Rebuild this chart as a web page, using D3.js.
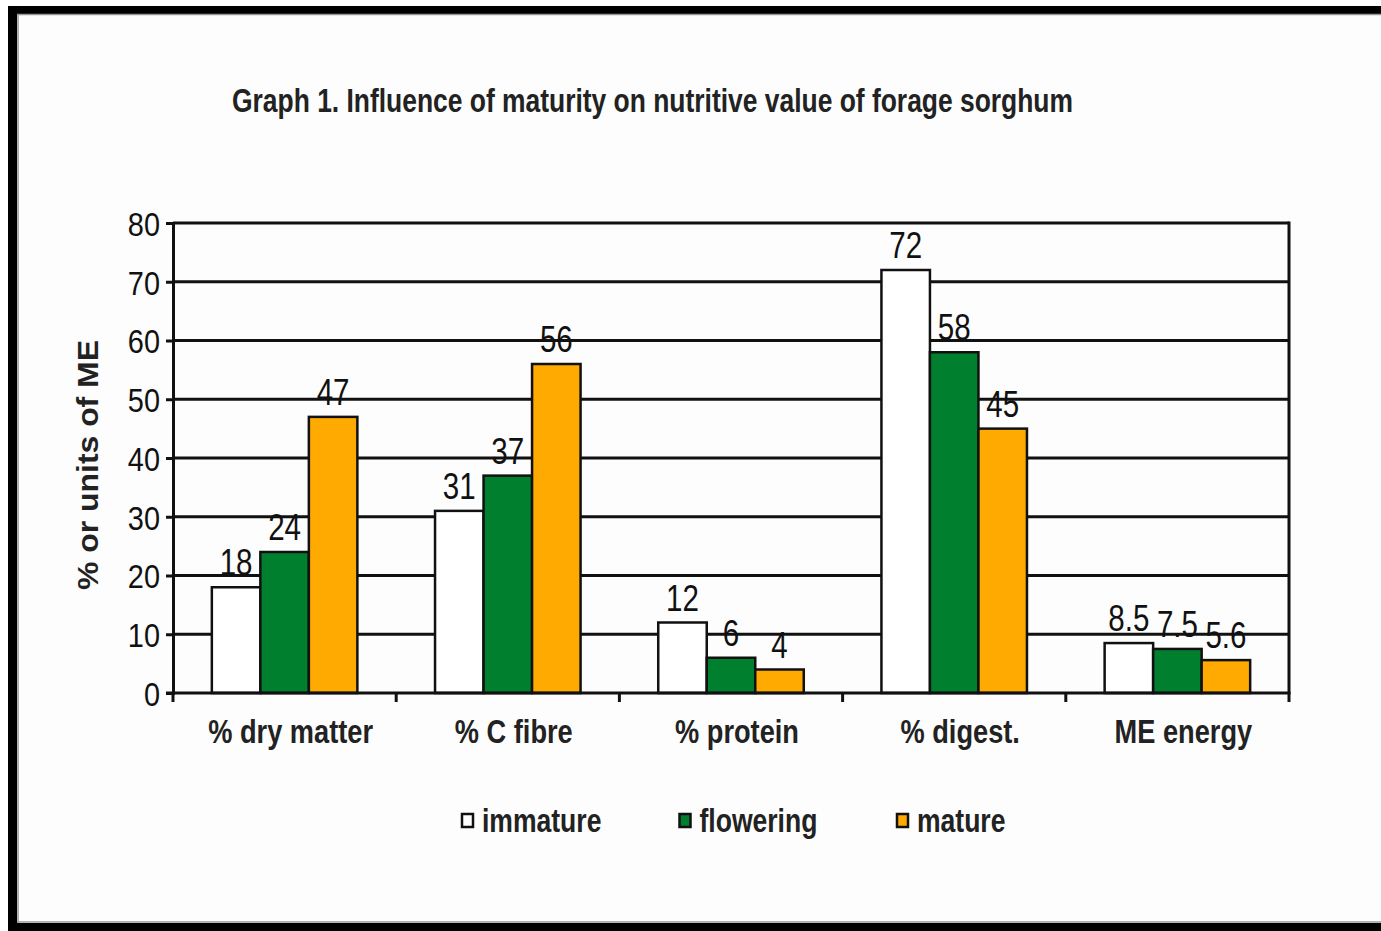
<!DOCTYPE html>
<html>
<head>
<meta charset="utf-8">
<script src="https://cdn.jsdelivr.net/npm/d3@7"></script>
<style>
  html, body { margin: 0; padding: 0; background: #ffffff; }
  svg { display: block; }
</style>
</head>
<body>
<svg id="chart" width="1381" height="931"></svg>
<script>
// ---- data ----
const categories = ["% dry matter", "% C fibre", "% protein", "% digest.", "ME energy"];
const seriesNames = ["immature", "flowering", "mature"];
const immature = [18, 31, 12, 72, 8.5];
const flowering = [24, 37, 6, 58, 7.5];
const mature = [47, 56, 4, 45, 5.6];
const yTicks = [0, 10, 20, 30, 40, 50, 60, 70, 80];
const titleText = "Graph 1. Influence of maturity on nutritive value of forage sorghum";
const yTitle = "% or units of ME";

const seriesValues = [immature, flowering, mature];
const colors = ["#ffffff", "#00802f", "#ffaa00"];

(function () {
const svg = d3.select("#chart");
const W = 1381, H = 931;

function condense(sel, f) {
  sel.each(function () {
    const L = this.getComputedTextLength();
    d3.select(this).attr("textLength", L * f).attr("lengthAdjust", "spacingAndGlyphs");
  });
}

// frame
svg.append("rect").attr("x", 0).attr("y", 0).attr("width", W).attr("height", H).attr("fill", "#ffffff");
svg.append("rect").attr("x", 17).attr("y", 13).attr("width", W - 17).attr("height", 910).attr("fill", "#fdfdfd");
svg.append("rect").attr("x", 8).attr("y", 6).attr("width", W - 8).attr("height", 8).attr("fill", "#000");
svg.append("rect").attr("x", 8).attr("y", 6).attr("width", 9).attr("height", H - 6).attr("fill", "#000");
svg.append("rect").attr("x", 8).attr("y", 923).attr("width", W - 8).attr("height", 8).attr("fill", "#000");
svg.append("line").attr("x1", 17).attr("x2", W).attr("y1", 14.5).attr("y2", 14.5).attr("stroke", "#999").attr("stroke-width", 1.5);
svg.append("line").attr("x1", 18).attr("x2", 18).attr("y1", 14).attr("y2", 923).attr("stroke", "#999").attr("stroke-width", 1.5);
svg.append("line").attr("x1", 17).attr("x2", W).attr("y1", 922).attr("y2", 922).attr("stroke", "#999").attr("stroke-width", 1.5);

// plot geometry
const pLeft = 173, pRight = 1289, pTop = 223, pBottom = 693;

const x = d3.scaleBand().domain(categories).range([pLeft, pRight]).padding(0);
const xs = d3.scaleBand().domain(seriesNames)
  .range([x.bandwidth() * 0.174, x.bandwidth() * 0.826]).padding(0);
const y = d3.scaleLinear().domain([0, 80]).range([pBottom, pTop]);

const font = "'Liberation Sans', Arial, sans-serif";

// gridlines
svg.append("g").selectAll("line").data(yTicks.filter(d => d > 0)).join("line")
  .attr("x1", pLeft).attr("x2", pRight)
  .attr("y1", d => y(d)).attr("y2", d => y(d))
  .attr("stroke", "#111").attr("stroke-width", 3);

// right border of plot
svg.append("line").attr("x1", pRight).attr("x2", pRight).attr("y1", pTop - 1.5).attr("y2", pBottom)
  .attr("stroke", "#111").attr("stroke-width", 3);

// y axis
const yAxis = d3.axisLeft(y).tickValues(yTicks).tickSize(7).tickPadding(6);
const gy = svg.append("g").attr("transform", `translate(${pLeft},0)`).call(yAxis);
gy.select(".domain").attr("stroke", "#111").attr("stroke-width", 3);
gy.selectAll(".tick line").attr("stroke", "#111").attr("stroke-width", 3);
gy.selectAll(".tick text").attr("font-family", font).attr("font-size", 34).attr("fill", "#111")
  .attr("dy", "0.36em");
condense(gy.selectAll(".tick text"), 0.85);

// bars
const groups = svg.append("g").selectAll("g").data(categories).join("g")
  .attr("transform", d => `translate(${x(d)},0)`);

groups.selectAll("rect").data((c, i) => seriesNames.map((s, j) => ({ s, j, v: seriesValues[j][i] })))
  .join("rect")
  .attr("x", d => xs(d.s))
  .attr("width", xs.bandwidth())
  .attr("y", d => y(d.v))
  .attr("height", d => pBottom - y(d.v))
  .attr("fill", d => colors[d.j])
  .attr("stroke", "#111").attr("stroke-width", 2.5);

// value labels
const vl = groups.selectAll("text").data((c, i) => seriesNames.map((s, j) => ({ s, j, v: seriesValues[j][i] })))
  .join("text")
  .attr("x", d => xs(d.s) + xs.bandwidth() / 2)
  .attr("y", d => y(d.v) - 12)
  .attr("text-anchor", "middle")
  .attr("font-family", font).attr("font-size", 36).attr("fill", "#111")
  .text(d => String(d.v));
condense(vl, 0.82);

// x axis
const xAxis = d3.axisBottom(x).tickSize(0).tickPadding(24);
const gx = svg.append("g").attr("transform", `translate(0,${pBottom})`).call(xAxis);
gx.select(".domain").remove();
gx.selectAll(".tick text").attr("font-family", font).attr("font-weight", "bold")
  .attr("font-size", 34).attr("fill", "#222").attr("dx", 6).attr("dy", "0.75em");
condense(gx.selectAll(".tick text"), 0.8);
svg.append("line").attr("x1", pLeft - 7).attr("x2", pRight + 1.5).attr("y1", pBottom).attr("y2", pBottom)
  .attr("stroke", "#111").attr("stroke-width", 3);
// category boundary ticks
const edges = categories.map(c => x(c)).concat([pRight]);
svg.append("g").selectAll("line").data(edges).join("line")
  .attr("x1", d => d).attr("x2", d => d)
  .attr("y1", pBottom).attr("y2", pBottom + 9)
  .attr("stroke", "#111").attr("stroke-width", 3);

// title
svg.append("text").attr("x", 232).attr("y", 112)
  .attr("font-family", font).attr("font-weight", "bold").attr("font-size", 33).attr("fill", "#222")
  .attr("textLength", 841).attr("lengthAdjust", "spacingAndGlyphs")
  .text(titleText);

// y title
svg.append("text").attr("transform", "translate(98,465) rotate(-90)")
  .attr("text-anchor", "middle")
  .attr("font-family", font).attr("font-weight", "bold").attr("font-size", 30).attr("fill", "#222")
  .attr("textLength", 250).attr("lengthAdjust", "spacingAndGlyphs")
  .text(yTitle);

// legend
const lx = d3.scalePoint().domain(seriesNames).range([462, 897]);
const leg = svg.append("g").selectAll("g").data(seriesNames).join("g")
  .attr("transform", d => `translate(${lx(d)},814)`);
leg.append("rect").attr("x", 0).attr("y", 0).attr("width", 11).attr("height", 13)
  .attr("fill", (d, i) => colors[i]).attr("stroke", "#111").attr("stroke-width", 2.5);
const lt = leg.append("text").attr("x", 20).attr("y", 18)
  .attr("font-family", font).attr("font-weight", "bold").attr("font-size", 34).attr("fill", "#222")
  .text(d => d);
condense(lt, 0.78);
})();
</script>
</body>
</html>
